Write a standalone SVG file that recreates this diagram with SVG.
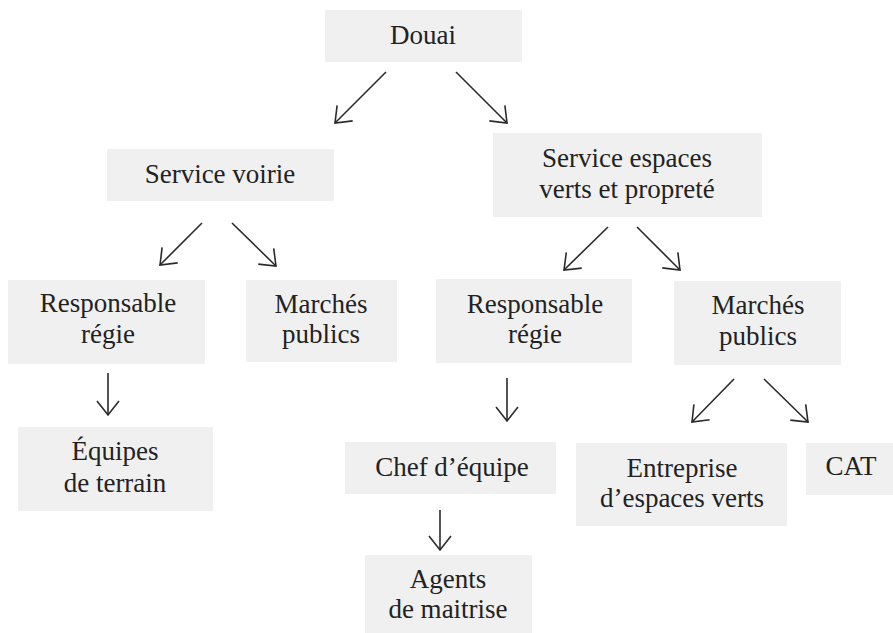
<svg xmlns="http://www.w3.org/2000/svg" width="893" height="633" viewBox="0 0 893 633">
<style>
.box{fill:#f0f0f0;}
.t{font-family:"Liberation Serif","Times New Roman",serif;font-size:27px;fill:#222;text-anchor:middle;}
.c{stroke:#2a2a2a;stroke-width:1.6;fill:none;marker-end:url(#ah);}
</style>
<defs>
<marker id="ah" markerUnits="userSpaceOnUse" viewBox="-16 -14 18 28" refX="0" refY="0" markerWidth="18" markerHeight="28" orient="auto">
<path d="M-14,-11 L0,0 L-14,11" fill="none" stroke="#2a2a2a" stroke-width="1.6"/>
</marker>
</defs>
<rect width="893" height="633" fill="#ffffff"/>
<g id="connectors">
<line class="c" x1="386" y1="72" x2="335" y2="123"/>
<line class="c" x1="456" y1="72" x2="507" y2="123"/>
<line class="c" x1="202" y1="223" x2="160" y2="265"/>
<line class="c" x1="232" y1="223" x2="276" y2="266"/>
<line class="c" x1="608" y1="227" x2="564" y2="270"/>
<line class="c" x1="637" y1="227" x2="680" y2="270"/>
<line class="c" x1="108" y1="373" x2="108" y2="415"/>
<line class="c" x1="507" y1="378" x2="507" y2="421"/>
<line class="c" x1="440" y1="510" x2="440" y2="550"/>
<line class="c" x1="734" y1="379" x2="692" y2="422"/>
<line class="c" x1="764" y1="379" x2="808" y2="422"/>
</g>
<g id="douai"><rect class="box" x="325" y="10" width="197" height="52"/><text class="t" x="423" y="44">Douai</text></g>
<g id="service-voirie"><rect class="box" x="107" y="149" width="227" height="52"/><text class="t" x="220" y="183">Service voirie</text></g>
<g id="service-espaces-verts"><rect class="box" x="493" y="133" width="269" height="84"/><text class="t" x="627" y="167">Service espaces</text><text class="t" x="627" y="198">verts et propreté</text></g>
<g id="resp-regie-1"><rect class="box" x="8" y="280" width="197" height="84"/><text class="t" x="108" y="312">Responsable</text><text class="t" x="108" y="343">régie</text></g>
<g id="marches-1"><rect class="box" x="246" y="280" width="151" height="82"/><text class="t" x="321" y="313">Marchés</text><text class="t" x="321" y="343">publics</text></g>
<g id="resp-regie-2"><rect class="box" x="436" y="279" width="196" height="84"/><text class="t" x="535" y="313">Responsable</text><text class="t" x="535" y="343">régie</text></g>
<g id="marches-2"><rect class="box" x="674" y="281" width="167" height="84"/><text class="t" x="758" y="314">Marchés</text><text class="t" x="758" y="345">publics</text></g>
<g id="equipes"><rect class="box" x="18" y="427" width="195" height="84"/><text class="t" x="115" y="460">Équipes</text><text class="t" x="115" y="492">de terrain</text></g>
<g id="chef"><rect class="box" x="345" y="442" width="211" height="52"/><text class="t" x="452" y="476">Chef d’équipe</text></g>
<g id="agents"><rect class="box" x="365" y="555" width="167" height="78"/><text class="t" x="448" y="588">Agents</text><text class="t" x="448" y="618">de maitrise</text></g>
<g id="entreprise"><rect class="box" x="576" y="443" width="211" height="83"/><text class="t" x="682" y="477">Entreprise</text><text class="t" x="682" y="507">d’espaces verts</text></g>
<g id="cat"><rect class="box" x="806" y="443" width="87" height="52"/><text class="t" x="851" y="475">CAT</text></g>
</svg>
